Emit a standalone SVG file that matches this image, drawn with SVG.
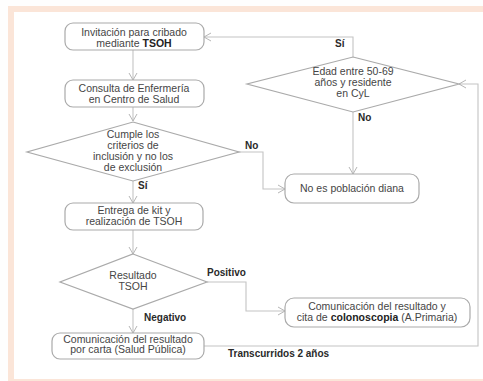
<svg xmlns="http://www.w3.org/2000/svg" width="483" height="381" viewBox="0 0 483 381">
<defs>
<marker id="arr" markerWidth="10" markerHeight="10" refX="8" refY="5" orient="auto" markerUnits="userSpaceOnUse">
<path d="M1,1 L8,5 L1,9" fill="none" stroke="#b5b5b5" stroke-width="1"/>
</marker>
</defs>
<style>
.box{fill:#ffffff;stroke:#aaaaaa;stroke-width:1.2}
.t{font-family:"Liberation Sans",Arial,sans-serif;font-size:10.5px;fill:#454545;text-anchor:middle}
.b{font-weight:bold}
.lb{font-family:"Liberation Sans",Arial,sans-serif;font-size:10px;font-weight:bold;fill:#2a2a2a}
.c{fill:none;stroke:#c4c4c4;stroke-width:1.1}
.ca{fill:none;stroke:#c4c4c4;stroke-width:1.1;marker-end:url(#arr)}
</style>
<rect x="0" y="0" width="483" height="381" fill="#fefefe"/>
<rect x="8" y="6" width="480" height="376" fill="#fbe5d8"/>
<rect x="14" y="12" width="470" height="367" fill="#ffffff"/>

<g id="connectors">
<path class="ca" d="M133,50 V80"/>
<path class="ca" d="M133,107 V121"/>
<path class="ca" d="M133,181 V203"/>
<path class="ca" d="M238,152 H263 V189 H285"/>
<path class="ca" d="M133,230 V254"/>
<path class="ca" d="M207,282 H246 V311 H285"/>
<path class="ca" d="M133,309 V333"/>
<path class="ca" d="M204,346 H478 V84 H459"/>
<path class="ca" d="M353,57 V37 H204"/>
<path class="ca" d="M353,112 V174"/>
<text class="lb" x="335" y="47">Sí</text>
<text class="lb" x="358" y="121">No</text>
<text class="lb" x="245" y="149">No</text>
<text class="lb" x="138" y="189">Sí</text>
<text class="lb" x="207" y="276">Positivo</text>
<text class="lb" x="144" y="321">Negativo</text>
<text class="lb" x="228" y="357">Transcurridos 2 años</text>
</g>

<g id="n-invitacion">
<rect class="box" x="65" y="23" width="139" height="27" rx="8"/>
<text class="t" x="134" y="36">Invitación para cribado</text>
<text class="t" x="134" y="46.5">mediante <tspan class="b" fill="#222">TSOH</tspan></text>
</g>
<g id="n-consulta">
<rect class="box" x="65" y="80" width="139" height="27" rx="8"/>
<text class="t" x="134" y="92">Consulta de Enfermería</text>
<text class="t" x="134" y="102.5">en Centro de Salud</text>
</g>
<g id="n-cumple">
<polygon class="box" points="133,122 239,152 133,181 27,152"/>
<text class="t" x="133" y="138">Cumple los</text>
<text class="t" x="133" y="149">criterios de</text>
<text class="t" x="133" y="160">inclusión y no los</text>
<text class="t" x="133" y="171">de exclusión</text>
</g>
<g id="n-entrega">
<rect class="box" x="65" y="203" width="138" height="27" rx="8"/>
<text class="t" x="134" y="214">Entrega de kit y</text>
<text class="t" x="134" y="224.5">realización de TSOH</text>
</g>
<g id="n-resultado">
<polygon class="box" points="133,254 207,282 133,309 60,282"/>
<text class="t" x="133" y="279">Resultado</text>
<text class="t" x="133" y="289.5">TSOH</text>
</g>
<g id="n-carta">
<rect class="box" x="52" y="333" width="152" height="26" rx="8"/>
<text class="t" x="128" y="342.5">Comunicación del resultado</text>
<text class="t" x="128" y="353">por carta (Salud Pública)</text>
</g>
<g id="n-edad">
<polygon class="box" points="353,57 459,84 353,112 247,84"/>
<text class="t" x="353" y="75">Edad entre 50-69</text>
<text class="t" x="353" y="86">años  y residente</text>
<text class="t" x="353" y="97">en CyL</text>
</g>
<g id="n-noes">
<rect class="box" x="285" y="174" width="134" height="29" rx="9"/>
<text class="t" x="352" y="192">No es población diana</text>
</g>
<g id="n-colono">
<rect class="box" x="285" y="298" width="185" height="29" rx="9"/>
<text class="t" x="377" y="310">Comunicación del resultado y</text>
<text class="t" x="377" y="321">cita de <tspan class="b" fill="#222">colonoscopia</tspan> (A.Primaria)</text>
</g>
</svg>
